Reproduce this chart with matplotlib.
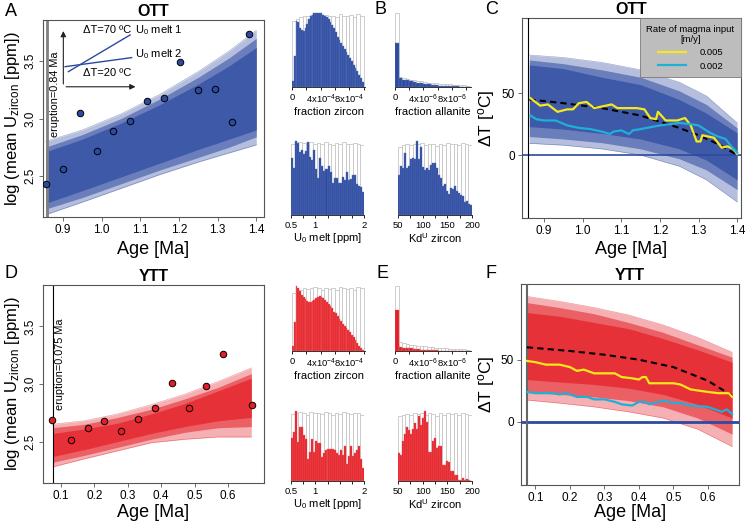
import numpy as np
import matplotlib.pyplot as plt

plt.rcParams["font.family"] = ["Liberation Sans", "DejaVu Sans"]
plt.rcParams["mathtext.fontset"] = "custom"
plt.rcParams["mathtext.rm"] = "Liberation Sans"
plt.rcParams["mathtext.it"] = "Liberation Sans:italic"
plt.rcParams["mathtext.bf"] = "Liberation Sans:bold"

# ------------------------------------------------------------
# data
# ------------------------------------------------------------
OTT_ERUPTION = 0.858
YTT_ERUPTION = 0.075

# panel A - measured zircon U (log mean)
OTT_AGE = [0.857, 0.900, 0.943, 0.987, 1.030, 1.073, 1.117, 1.160, 1.203, 1.248, 1.293, 1.338, 1.382]
OTT_LOGU = [2.43, 2.56, 3.05, 2.72, 2.89, 2.98, 3.15, 3.18, 3.49, 3.25, 3.26, 2.97, 3.74]

# panel A - model envelope (lines ensemble)
A_X = [0.855, 0.95, 1.05, 1.15, 1.25, 1.33, 1.40]
A_OUTER_LO = [2.16, 2.27, 2.39, 2.51, 2.62, 2.70, 2.77]
A_MID_LO = [2.21, 2.31, 2.43, 2.55, 2.66, 2.75, 2.84]
A_CORE_LO = [2.26, 2.37, 2.49, 2.61, 2.73, 2.82, 2.90]
A_CORE_HI = [2.71, 2.82, 2.96, 3.12, 3.30, 3.46, 3.62]
A_MID_HI = [2.75, 2.86, 3.00, 3.17, 3.36, 3.53, 3.70]
A_OUTER_HI = [2.80, 2.90, 3.04, 3.21, 3.41, 3.59, 3.77]

# panel D
YTT_AGE = [0.072, 0.129, 0.180, 0.230, 0.280, 0.330, 0.381, 0.431, 0.483, 0.533, 0.586, 0.671]
YTT_LOGU = [2.69, 2.51, 2.62, 2.68, 2.59, 2.70, 2.79, 3.01, 2.79, 2.98, 3.26, 2.82]

D_X = [0.075, 0.17, 0.27, 0.37, 0.47, 0.57, 0.67]
D_OUTER_LO = [2.28, 2.35, 2.42, 2.49, 2.52, 2.54, 2.54]
D_MID_LO = [2.32, 2.38, 2.45, 2.52, 2.58, 2.62, 2.63]
D_CORE_LO = [2.37, 2.43, 2.50, 2.57, 2.63, 2.68, 2.71]
D_CORE_HI = [2.57, 2.61, 2.66, 2.74, 2.83, 2.94, 3.05]
D_MID_HI = [2.62, 2.65, 2.71, 2.78, 2.87, 2.97, 3.09]
D_OUTER_HI = [2.65, 2.68, 2.74, 2.82, 2.91, 3.02, 3.14]

# panel C - delta T ensemble and runs
C_X = [0.862, 0.95, 1.05, 1.15, 1.25, 1.32, 1.40]
C_OUTER_LO = [9.5, 8, 5, 0, -9, -20, -38]
C_MID_LO = [15, 13, 10, 5, -3, -12, -28]
C_CORE_LO = [23, 21, 17.5, 13, 5, -4, -20]
C_CORE_HI = [73, 70, 63, 57, 45, 34, 18]
C_MID_HI = [77, 74, 69, 63, 52, 41, 22]
C_OUTER_HI = [81, 79, 75, 69, 59, 48, 26]

C_MEAN_AGE = [0.862, 0.95, 1.05, 1.15, 1.25, 1.30, 1.35, 1.40]
C_MEAN_DT = [45, 42, 38, 32, 22, 16, 9, 0]

C_FAST_AGE = [0.865, 0.89, 0.91, 0.935, 0.96, 0.975, 0.99, 1.01, 1.03, 1.06, 1.075, 1.09, 1.11,
              1.14, 1.16, 1.175, 1.19, 1.195, 1.215, 1.245, 1.265, 1.28, 1.295, 1.305, 1.31,
              1.34, 1.36, 1.375, 1.39, 1.40]
C_FAST_DT = [46, 40, 41, 35, 37, 37, 42, 43, 38, 40, 41, 38, 38,
             38, 37, 30, 29, 35, 28, 28, 30, 24, 11, 11, 16,
             14, 6, 7, 5, 1]

C_SLOW_AGE = [0.865, 0.88, 0.90, 0.93, 0.96, 0.99, 1.02, 1.05, 1.07, 1.08, 1.10, 1.12, 1.13,
              1.15, 1.20, 1.25, 1.28, 1.30, 1.33, 1.35, 1.37, 1.385, 1.40]
C_SLOW_DT = [32, 29, 28, 28, 24, 22, 21, 19, 17, 19, 20, 17, 20,
             21, 24, 26, 25, 24, 18, 15, 13, 7, 2]

# panel F
F_X = [0.075, 0.17, 0.27, 0.37, 0.47, 0.57, 0.67]
F_OUTER_LO = [17.5, 15, 12, 8, 3, -6, -20]
F_MID_LO = [24, 22, 20, 17, 12, 3, -10]
F_CORE_LO = [34, 32, 30, 27, 22, 14, 3]
F_CORE_HI = [88, 85, 80, 75, 67, 58, 48]
F_MID_HI = [96, 92, 87, 80, 72, 62, 52]
F_OUTER_HI = [101, 97, 92, 86, 78, 68, 56]

F_MEAN_AGE = [0.075, 0.2, 0.3, 0.4, 0.5, 0.6, 0.67]
F_MEAN_DT = [60, 57, 54, 50, 44, 33, 21]

F_FAST_AGE = [0.075, 0.10, 0.13, 0.17, 0.20, 0.22, 0.24, 0.27, 0.30, 0.33, 0.35, 0.38, 0.40,
              0.41, 0.42, 0.43, 0.46, 0.50, 0.52, 0.55, 0.60, 0.63, 0.66, 0.67]
F_FAST_DT = [49, 48, 46, 46, 44, 41, 42, 39, 39, 39, 36, 35, 34,
             36, 36, 31, 31, 31, 30, 26, 24, 23, 23, 20]

F_SLOW_AGE = [0.075, 0.10, 0.15, 0.17, 0.19, 0.22, 0.25, 0.27, 0.30, 0.33, 0.35, 0.38, 0.40,
              0.42, 0.43, 0.47, 0.50, 0.52, 0.55, 0.60, 0.62, 0.64, 0.655, 0.67]
F_SLOW_DT = [24, 23, 23, 22, 23, 20, 20, 18, 18, 16, 14, 13, 16,
             16, 14, 17, 15, 15, 13, 12, 10, 8, 10, 6]

RATE_LABELS = ["0.005", "0.002"]

# histograms (relative heights, prior = grey outline, posterior = filled)
PRIOR_ZIRCON = [0.90, 0.93, 0.95, 0.97, 0.96, 0.98, 0.99, 0.97, 0.95, 0.98,
                0.96, 0.97, 0.95, 0.99, 0.97, 0.96, 0.98, 0.95, 0.99, 0.97]
PRIOR_ALLANITE = [1.0, 0.14, 0.12, 0.11, 0.10, 0.09, 0.08, 0.075, 0.07, 0.06, 0.055,
                  0.05, 0.045, 0.04, 0.04, 0.035, 0.03, 0.03, 0.025, 0.025, 0.02]
PRIOR_U0 = [0.96, 0.97, 0.99, 0.98, 0.95, 0.99, 0.97, 0.98, 0.96, 0.99,
            0.97, 0.95, 0.98, 0.96, 0.99, 0.97, 0.96, 0.98, 0.97, 0.95]
PRIOR_KD = [0.93, 0.95, 0.96, 0.95, 0.97, 0.96, 0.98, 0.95, 0.97, 0.96,
            0.94, 0.97, 0.95, 0.98, 0.96, 0.97, 0.95, 0.98, 0.96, 0.95]

OTT_ZIRCON = [0.08, 0.42, 0.90, 0.88, 0.80, 0.77, 0.76, 0.80, 0.86, 0.92,
              0.96, 0.98, 1.0, 1.0, 1.0, 1.0, 1.0, 0.98, 0.97, 0.95,
              0.92, 0.89, 0.85, 0.80, 0.75, 0.68, 0.64, 0.60, 0.56, 0.52,
              0.47, 0.43, 0.39, 0.35, 0.30, 0.26, 0.22, 0.17, 0.12, 0.07]
OTT_ALLANITE = [0.6, 0.12, 0.10, 0.09, 0.08, 0.07, 0.06, 0.05, 0.045, 0.04, 0.03,
                0.025, 0.02, 0.018, 0.015, 0.012, 0.01, 0.008, 0.006, 0.004, 0.003]
OTT_U0 = [0.78, 0.64, 1.0, 0.98, 0.86, 0.88, 0.83, 0.87, 0.99, 0.79, 0.75, 0.89, 0.63,
          0.51, 0.77, 0.67, 0.60, 0.63, 0.66, 0.58, 0.43, 0.51, 0.51, 0.44, 0.44,
          0.52, 0.47, 0.58, 0.47, 0.49, 0.55, 0.55, 0.42, 0.40, 0.38, 0.31]
OTT_KD = [0.55, 0.66, 0.64, 0.85, 0.64, 0.66, 0.76, 0.78, 0.76, 1.0, 0.76, 0.93, 0.65,
          0.61, 0.64, 0.61, 0.68, 0.71, 0.71, 0.64, 0.54, 0.51, 0.40, 0.42, 0.32,
          0.29, 0.37, 0.35, 0.40, 0.32, 0.30, 0.27, 0.26, 0.18, 0.19, 0.15, 0.14]

YTT_ZIRCON = [0.08, 0.45, 1.0, 0.97, 0.92, 0.87, 0.83, 0.80, 0.78, 0.76,
              0.76, 0.77, 0.79, 0.82, 0.84, 0.85, 0.84, 0.82, 0.79, 0.76,
              0.73, 0.70, 0.66, 0.61, 0.58, 0.54, 0.50, 0.46, 0.42, 0.39,
              0.36, 0.33, 0.29, 0.25, 0.21, 0.17, 0.12, 0.08, 0.04, 0.02]
YTT_ALLANITE = [0.63, 0.06, 0.05, 0.045, 0.04, 0.03, 0.025, 0.02, 0.015, 0.012, 0.01,
                0.008, 0.006, 0.005, 0.004, 0.003, 0.002, 0.002, 0.001, 0.001, 0.0]
YTT_U0 = [0.62, 0.71, 1.0, 0.56, 0.78, 0.78, 0.66, 0.60, 0.32, 0.42, 0.60, 0.42, 0.57,
          0.54, 0.55, 0.34, 0.40, 0.44, 0.46, 0.46, 0.46, 0.46, 0.45, 0.40, 0.37,
          0.45, 0.37, 0.51, 0.25, 0.36, 0.50, 0.36, 0.40, 0.45, 0.50, 0.32, 0.18]
YTT_KD = [0.40, 0.37, 0.57, 0.68, 0.78, 0.73, 0.68, 0.75, 0.83, 0.75, 0.93, 0.80, 0.90,
          1.0, 0.85, 0.42, 0.42, 0.57, 0.62, 0.47, 0.50, 0.51, 0.23, 0.23, 0.29,
          0.28, 0.14, 0.15, 0.09, 0.09, 0.02, 0.02, 0.04, 0.02, 0.03, 0.02, 0.0]

# ------------------------------------------------------------
# styling
# ------------------------------------------------------------
BLUE = "#2b4aa0"
BLUE_EDGE = "#6078bb"
RED = "#e41e26"
RED_EDGE = "#f0686d"
YELLOW = "#f7e81c"
CYAN = "#1eb0d9"
FRAME = "#555555"

W, H = 745, 521
fig = plt.figure(figsize=(W / 100, H / 100), dpi=100)


def px_axes(left, top, right, bottom):
    return fig.add_axes([left / W, 1 - bottom / H, (right - left) / W, (bottom - top) / H])


def style_frame(ax):
    for sp in ax.spines.values():
        sp.set_color(FRAME)
        sp.set_linewidth(0.8)
    ax.tick_params(direction="out", length=3, width=0.6, labelsize=8.5, pad=2, color=FRAME)


def ensemble(ax, x, olo, mlo, clo, chi, mhi, ohi, color):
    ax.fill_between(x, olo, ohi, color=color, alpha=0.35, lw=0)
    ax.fill_between(x, mlo, mhi, color=color, alpha=0.55, lw=0)
    ax.fill_between(x, clo, chi, color=color, alpha=0.7, lw=0)
    ax.plot(x, olo, color=color, lw=0.4, alpha=0.5)
    ax.plot(x, ohi, color=color, lw=0.4, alpha=0.5)


def hist(ax, lo, hi, prior, post, color, edge):
    pe = np.linspace(lo, hi, len(prior) + 1)
    ax.bar(pe[:-1], prior, width=np.diff(pe), align="edge", facecolor="white",
           edgecolor="#c6c6c6", lw=0.6)
    qe = np.linspace(lo, hi, len(post) + 1)
    ax.bar(qe[:-1], post, width=np.diff(qe), align="edge", color=color,
           edgecolor=edge, lw=0.3)
    ax.set_ylim(0, 1.02)
    for s in ("left", "right", "top"):
        ax.spines[s].set_visible(False)
    ax.spines["bottom"].set_color("#333333")
    ax.spines["bottom"].set_linewidth(0.7)
    ax.set_yticks([])
    ax.tick_params(axis="x", direction="out", length=2.5, width=0.6, labelsize=6.8, pad=1.5)


def logu_panel(ax, ages, logu, erup, erup_text, x, env, color, xlim, xticks, title,
               erup_color, erup_lw, text_xy, xlab_pad):
    ensemble(ax, x, *env, color)
    ax.axvline(erup, color=erup_color, lw=erup_lw)
    ax.scatter(ages, logu, s=22, color=color, edgecolor="black", lw=0.7, zorder=5)
    ax.text(text_xy[0], text_xy[1], erup_text, rotation=90, ha="center", va="center", fontsize=7.8)
    ax.set_xlim(*xlim)
    ax.set_ylim(2.14, 3.86)
    ax.set_xticks(xticks)
    ax.set_xticklabels([f"{t:.1f}" for t in xticks])
    ax.set_yticks([2.5, 3.0, 3.5])
    ax.set_yticklabels(["2.5", "3.0", "3.5"], rotation=90, va="center")
    style_frame(ax)
    ax.set_xlabel("Age [Ma]", fontsize=13, labelpad=xlab_pad)
    ax.set_ylabel(r"log (mean U$_{\mathregular{zircon}}$ [ppm])", fontsize=12)
    ax.yaxis.set_label_coords(-0.095, 0.5)
    ax.set_title(title, fontsize=11.5, fontweight="bold", pad=3)


def dt_panel(ax, x, env, color, mean, fast, slow, erup, erup_color, erup_lw, zero_lw,
             xlim, xticks, title, xlab_pad):
    ensemble(ax, x, *env, color)
    ax.axhline(0, color=BLUE, lw=zero_lw, zorder=3)
    ax.axvline(erup, color=erup_color, lw=erup_lw, zorder=4)
    ax.plot(*mean, color="black", lw=1.5, ls=(0, (3, 2)), zorder=5)
    hf, = ax.plot(*fast, color=YELLOW, lw=1.6, zorder=6)
    hs, = ax.plot(*slow, color=CYAN, lw=1.6, zorder=6)
    ax.set_xlim(*xlim)
    ax.set_ylim(-51, 111)
    ax.set_xticks(xticks)
    ax.set_xticklabels([f"{t:.1f}" for t in xticks])
    ax.set_yticks([0, 50])
    style_frame(ax)
    ax.set_xlabel("Age [Ma]", fontsize=13, labelpad=xlab_pad)
    ax.set_ylabel(r"ΔT [$^{\mathregular{o}}$C]", fontsize=12.5)
    ax.yaxis.set_label_coords(-0.112, 0.5)
    ax.set_title(title, fontsize=11.5, fontweight="bold", pad=3)
    return hf, hs


# ------------------------------------------------------------
# panel A
# ------------------------------------------------------------
axA = px_axes(43, 20, 264, 217)
logu_panel(axA, OTT_AGE, OTT_LOGU, OTT_ERUPTION, "eruption=0.84 Ma", A_X,
           (A_OUTER_LO, A_MID_LO, A_CORE_LO, A_CORE_HI, A_MID_HI, A_OUTER_HI), BLUE,
           (0.848, 1.42), [0.9, 1.0, 1.1, 1.2, 1.3, 1.4], "OTT", "#808080", 2.0, (0.879, 3.21),
           3.5)

# schematic inset
arrow = dict(arrowstyle="-|>", color="#222222", lw=0.8, mutation_scale=8)
axA.annotate("", xy=(0.092, 0.958), xytext=(0.092, 0.661), xycoords="axes fraction", arrowprops=arrow)
axA.annotate("", xy=(0.431, 0.661), xytext=(0.092, 0.661), xycoords="axes fraction", arrowprops=arrow)
axA.plot([0.115, 0.394], [0.738, 0.924], transform=axA.transAxes, color=BLUE, lw=1)
axA.plot([0.100, 0.401], [0.763, 0.809], transform=axA.transAxes, color=BLUE, lw=1)
axA.text(0.182, 0.949, "ΔT=70 ºC", transform=axA.transAxes, fontsize=8, va="center")
axA.text(0.416, 0.949, r"U$_{\mathregular{0}}$ melt 1", transform=axA.transAxes, fontsize=8, va="center")
axA.text(0.416, 0.826, r"U$_{\mathregular{0}}$ melt 2", transform=axA.transAxes, fontsize=8, va="center")
axA.text(0.182, 0.732, "ΔT=20 ºC", transform=axA.transAxes, fontsize=8, va="center")

# ------------------------------------------------------------
# panel D
# ------------------------------------------------------------
axD = px_axes(43, 285, 264, 483)
logu_panel(axD, YTT_AGE, YTT_LOGU, YTT_ERUPTION, "eruption=0.075 Ma", D_X,
           (D_OUTER_LO, D_MID_LO, D_CORE_LO, D_CORE_HI, D_MID_HI, D_OUTER_HI), RED,
           (0.046, 0.708), [0.1, 0.2, 0.3, 0.4, 0.5, 0.6], "YTT", "black", 0.8, (0.097, 3.175),
           1.5)

# ------------------------------------------------------------
# panels B and E: histograms
# ------------------------------------------------------------
zr_ticks = np.arange(0, 1.01e-3, 2e-4)
zr_labels = ["0", "", r"4x10$^{\mathregular{-4}}$", "", r"8x10$^{\mathregular{-4}}$", ""]
al_ticks = np.arange(0, 1.01e-5, 2e-6)
al_labels = ["0", "", r"4x10$^{\mathregular{-6}}$", "", r"8x10$^{\mathregular{-6}}$", ""]
u0_ticks = np.arange(0.5, 2.01, 0.25)
u0_labels = ["0.5", "", "1", "", "", "", "2"]
kd_ticks = np.arange(50, 201, 25)
kd_labels = ["50", "", "100", "", "150", "", "200"]

hist_rows = [
    (OTT_ZIRCON, OTT_ALLANITE, OTT_U0, OTT_KD, BLUE, BLUE_EDGE, (12, 87, 140, 215)),
    (YTT_ZIRCON, YTT_ALLANITE, YTT_U0, YTT_KD, RED, RED_EDGE, (285, 351, 410, 481)),
]
for zr, al, u0, kd, col, edge, (t1, b1, t2, b2) in hist_rows:
    ax = px_axes(292, t1, 365, b1)
    hist(ax, 0, 1e-3, PRIOR_ZIRCON, zr, col, edge)
    ax.set_xlim(0, 1.02e-3)
    ax.set_xticks(zr_ticks, zr_labels)
    ax.set_xlabel("fraction zircon", fontsize=8, labelpad=1)

    ax = px_axes(395, t1, 471, b1)
    hist(ax, 0, 1.05e-5, PRIOR_ALLANITE, al, col, edge)
    ax.set_xlim(0, 1.07e-5)
    ax.set_xticks(al_ticks, al_labels)
    ax.set_xlabel("fraction allanite", fontsize=8, labelpad=1)

    ax = px_axes(291, t2, 364, b2)
    hist(ax, 0.5, 2.0, PRIOR_U0, u0, col, edge)
    ax.set_xlim(0.5, 2.0)
    ax.set_xticks(u0_ticks, u0_labels)
    ax.set_xlabel(r"U$_{\mathregular{0}}$ melt [ppm]", fontsize=8, labelpad=1)

    ax = px_axes(398, t2, 472, b2)
    hist(ax, 50, 200, PRIOR_KD, kd, col, edge)
    ax.set_xlim(50, 200)
    ax.set_xticks(kd_ticks, kd_labels)
    ax.set_xlabel(r"Kd$^{\mathregular{U}}$ zircon", fontsize=8, labelpad=1)

# ------------------------------------------------------------
# panels C and F
# ------------------------------------------------------------
axC = px_axes(522, 18, 741, 218)
hf, hs = dt_panel(axC, C_X, (C_OUTER_LO, C_MID_LO, C_CORE_LO, C_CORE_HI, C_MID_HI, C_OUTER_HI),
                  BLUE, (C_MEAN_AGE, C_MEAN_DT), (C_FAST_AGE, C_FAST_DT), (C_SLOW_AGE, C_SLOW_DT),
                  OTT_ERUPTION, "black", 0.8, 1.2, (0.843, 1.41),
                  [0.9, 1.0, 1.1, 1.2, 1.3, 1.4], "OTT", 3.0)
leg = axC.legend([hf, hs], RATE_LABELS, title="Rate of magma input\n[m/y]", loc="upper right",
                 fontsize=6.8, title_fontsize=6.8, frameon=True, fancybox=False,
                 facecolor="#bdbdbd", edgecolor="#7a7a7a", framealpha=1,
                 borderaxespad=0, handlelength=3.0, handletextpad=1.4, labelspacing=0.45,
                 borderpad=0.7)
leg.get_title().set_multialignment("center")
leg.get_frame().set_linewidth(0.6)
leg.set_zorder(10)

axF = px_axes(521, 284, 739, 485)
dt_panel(axF, F_X, (F_OUTER_LO, F_MID_LO, F_CORE_LO, F_CORE_HI, F_MID_HI, F_OUTER_HI),
         RED, (F_MEAN_AGE, F_MEAN_DT), (F_FAST_AGE, F_FAST_DT), (F_SLOW_AGE, F_SLOW_DT),
         YTT_ERUPTION, "#666666", 1.5, 2.0, (0.058, 0.69),
         [0.1, 0.2, 0.3, 0.4, 0.5, 0.6], "YTT", 0.0)

# panel letters
for letter, (x, y) in {"A": (11, 12), "B": (380, 9), "C": (492, 10),
                       "D": (11, 273), "E": (382, 274), "F": (491, 273)}.items():
    fig.text(x / W, 1 - y / H, letter, fontsize=13, ha="center", va="center")

fig.savefig("out.png", dpi=100)
